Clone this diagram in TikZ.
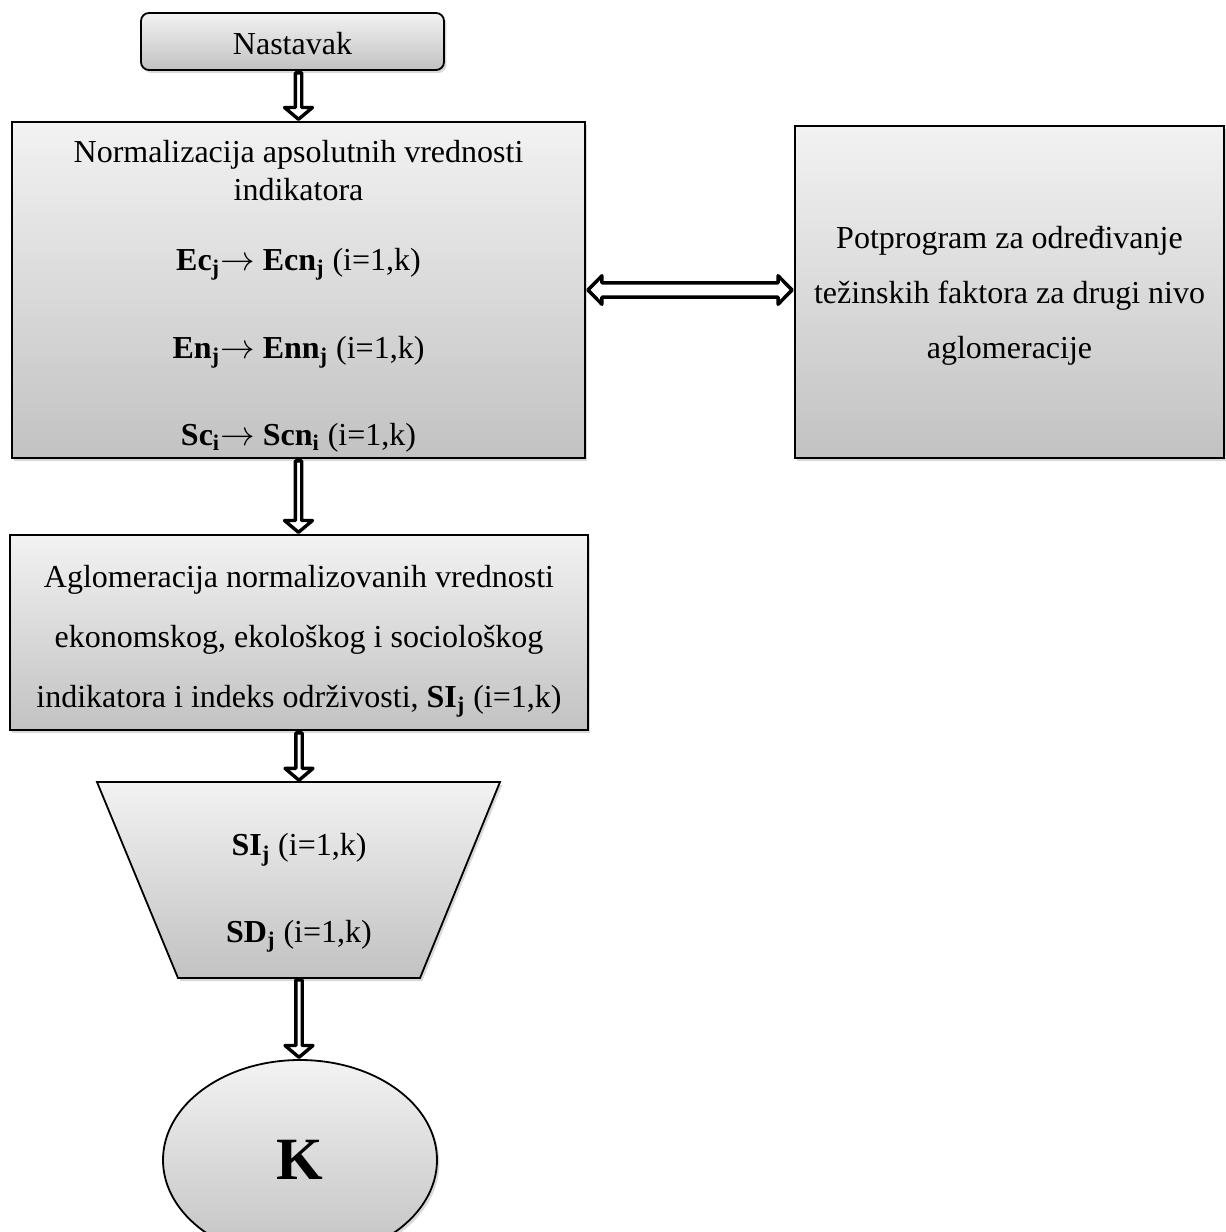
\documentclass[tikz,border=0pt]{standalone}
\usepackage{fontspec}
\setmainfont{Liberation Serif}
\usetikzlibrary{shadows,shapes.geometric,calc}
\newcommand{\bsub}[1]{\textsubscript{\textbf{#1}}}
\newcommand{\rarr}{$\rightarrow$}
\begin{document}
\begin{tikzpicture}[x=0.5pt,y=-0.5pt,
  shade box/.style={draw=black, line width=0.9pt, top color=gray!10, bottom color=gray!48,
    drop shadow={shadow xshift=1.2pt, shadow yshift=-1.5pt, opacity=0.3}},
  box/.style={shade box, inner sep=0pt, align=center},
  vblock/.style={draw=black, fill=white, line width=1.7pt, line join=round,
    to path={let \p1=(\tikztostart), \p2=(\tikztotarget) in
      (\x1-1.6pt,\y1-1pt) -- (\x1-1.6pt,\y2+6.8pt) -- (\x1-7pt,\y2+6.8pt) -- (\x1,\y2+0.9pt)
      -- (\x1+7pt,\y2+6.8pt) -- (\x1+1.6pt,\y2+6.8pt) -- (\x1+1.6pt,\y1-1pt) -- cycle}},
  hblock/.style={draw=black, fill=white, line width=1.75pt, line join=round,
    to path={let \p1=(\tikztostart), \p2=(\tikztotarget) in
      (\x1+1pt,\y1) -- (\x1+8pt,\y1+7.1pt) -- (\x1+8pt,\y1+3.6pt) -- (\x2-8pt,\y1+3.6pt)
      -- (\x2-8pt,\y1+7.1pt) -- (\x2-1pt,\y1) -- (\x2-8pt,\y1-7.1pt) -- (\x2-8pt,\y1-3.6pt)
      -- (\x1+8pt,\y1-3.6pt) -- (\x1+8pt,\y1-7.1pt) -- cycle}},
]
\useasboundingbox (0,0) rectangle (1226,1232);

\node[box, rounded corners=4pt, minimum width=151.5pt, minimum height=28.5pt,
  font=\fontsize{16}{19}\selectfont] (nast) at (292.5,41.5) {\rule{0pt}{13pt}Nastavak};

\node[box, minimum width=286.5pt, minimum height=168pt, font=\fontsize{16}{19.2}\selectfont]
  (norm) at (298.5,290)
  {\rule{0pt}{17pt}Normalizacija apsolutnih vrednosti\\ indikatora\\[15.8pt]
   \textbf{Ec}\bsub{j}\rarr{} \textbf{Ecn}\bsub{j} (i=1,k)\\[25pt]
   \textbf{En}\bsub{j}\rarr{} \textbf{Enn}\bsub{j} (i=1,k)\\[24pt]
   \textbf{Sc}\bsub{i}\rarr{} \textbf{Scn}\bsub{i} (i=1,k)};

\node[box, minimum width=214.5pt, minimum height=166pt, font=\fontsize{16}{27.5}\selectfont]
  (sub) at (1009.5,292)
  {\rule{0pt}{15pt}Potprogram za određivanje\\ težinskih faktora za drugi nivo\\ aglomeracije};

\node[box, minimum width=289pt, minimum height=97.5pt, font=\fontsize{16}{30}\selectfont]
  (aglo) at (299,632.5)
  {\rule{0pt}{20pt}Aglomeracija normalizovanih vrednosti\\ ekonomskog, ekološkog i sociološkog\\
   indikatora i indeks održivosti, \textbf{SI}\bsub{j} (i=1,k)};

\path[shade box] (97,782) -- (500,782) -- (420,978) -- (178,978) -- cycle;
\coordinate (trapN) at (298.5,782);
\coordinate (trapS) at (299,978);
\node[align=center, inner sep=0pt, font=\fontsize{16}{19.2}\selectfont] (trap) at (299,893)
  {\textbf{SI}\bsub{j} (i=1,k)\\[24pt] \textbf{SD}\bsub{j} (i=1,k)};

\node[shade box, ellipse, minimum width=137pt, minimum height=100pt, inner sep=0pt,
  font=\fontsize{30}{32}\selectfont\bfseries] (K) at (300,1160) {K};

\draw[vblock] (nast.south -| norm.north) to (norm.north);
\draw[hblock] (norm.east) to (norm.east -| sub.west);
\draw[vblock] (norm.south) to (aglo.north);
\draw[vblock] (aglo.south) to (trapN);
\draw[vblock] (trapS) to (K.north);
\end{tikzpicture}
\end{document}
